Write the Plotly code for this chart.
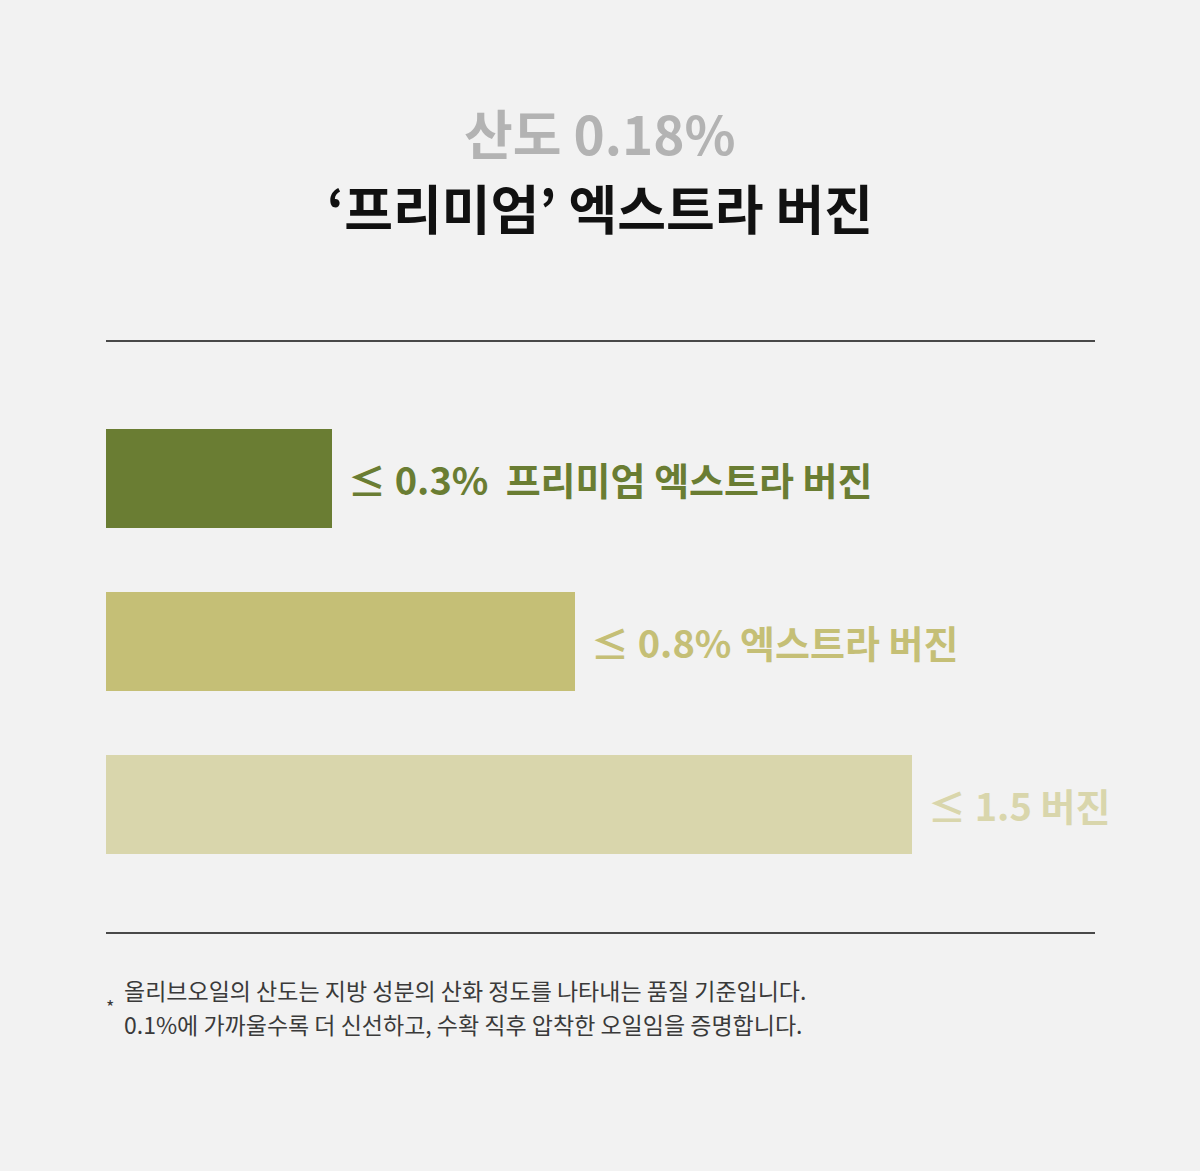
import plotly.graph_objects as go

# ---- data ----
grades = ["프리미엄 엑스트라 버진", "엑스트라 버진", "버진"]
acidity_labels = ["≤ 0.3%  프리미엄 엑스트라 버진", "≤ 0.8% 엑스트라 버진", "≤ 1.5 버진"]
bar_length = [22.85, 47.4, 81.5]   # relative bar lengths as drawn (scale 0-100)
bar_colors = ["#6a7d33", "#c5bf76", "#d9d6ac"]
title_top = "산도 0.18%"
title_main = "‘프리미엄’ 엑스트라 버진"
footnote_lines = [
    "올리브오일의 산도는 지방 성분의 산화 정도를 나타내는 품질 기준입니다.",
    "0.1%에 가까울수록 더 신선하고, 수확 직후 압착한 오일임을 증명합니다.",
]

W, H = 1200, 1171
FONT = "Noto Sans CJK KR"

fig = go.Figure()
fig.add_trace(go.Bar(
    y=list(range(len(grades))),
    x=bar_length,
    orientation="h",
    marker=dict(color=bar_colors, line=dict(width=0)),
    width=0.607,
    hoverinfo="skip",
    showlegend=False,
))

# plot frame: lines at y=341 and y=933, x 106..1095
x0, x1 = 106 / W, 1095 / W
ytop, ybot = 1 - 341 / H, 1 - 933 / H

annotations = []
for i, (lab, v, c) in enumerate(zip(acidity_labels, bar_length, bar_colors)):
    annotations.append(dict(
        x=v, y=i, xref="x", yref="y", text=lab, showarrow=False,
        xanchor="left", yanchor="middle", xshift=14,
        font=dict(family=FONT, size=38, color=c, weight="bold"),
    ))

annotations.append(dict(
    x=0.5, y=1 - 132 / H, xref="paper", yref="paper", text=title_top,
    showarrow=False, xanchor="center", yanchor="middle",
    font=dict(family=FONT, size=53, color="#b3b3b3", weight="bold"),
))
annotations.append(dict(
    x=0.5, y=1 - 207 / H, xref="paper", yref="paper", text=title_main,
    showarrow=False, xanchor="center", yanchor="middle",
    font=dict(family=FONT, size=53, color="#111111", weight="bold"),
))
for j, line in enumerate(footnote_lines):
    annotations.append(dict(
        x=122 / W, y=1 - (990 + 34 * j) / H, xref="paper", yref="paper",
        text=line, showarrow=False, xanchor="left", yanchor="middle",
        font=dict(family=FONT, size=23, color="#3a3a3a"),
    ))
annotations.append(dict(
    x=110 / W, y=1 - 1006 / H, xref="paper", yref="paper", text="*",
    showarrow=False, xanchor="center", yanchor="middle",
    font=dict(family=FONT, size=18, color="#3a3a3a"),
))

shapes = [
    dict(type="line", xref="paper", yref="paper", x0=x0, x1=x1, y0=ytop, y1=ytop,
         line=dict(color="#111111", width=1.5)),
    dict(type="line", xref="paper", yref="paper", x0=x0, x1=x1, y0=ybot, y1=ybot,
         line=dict(color="#111111", width=1.5)),
]

fig.update_layout(
    width=W, height=H,
    margin=dict(l=0, r=0, t=0, b=0),
    paper_bgcolor="#f2f2f2", plot_bgcolor="#f2f2f2",
    xaxis=dict(domain=[x0, x1], range=[0, 100], visible=False, fixedrange=True),
    yaxis=dict(domain=[ybot, ytop], range=[2.788, -0.8436], visible=False, fixedrange=True),
    annotations=annotations,
    shapes=shapes,
    bargap=0,
)

fig.write_html(
    "out.html",
    config={"displayModeBar": False},
    post_script="document.body.style.margin='0';document.body.style.background='#f2f2f2';",
)
